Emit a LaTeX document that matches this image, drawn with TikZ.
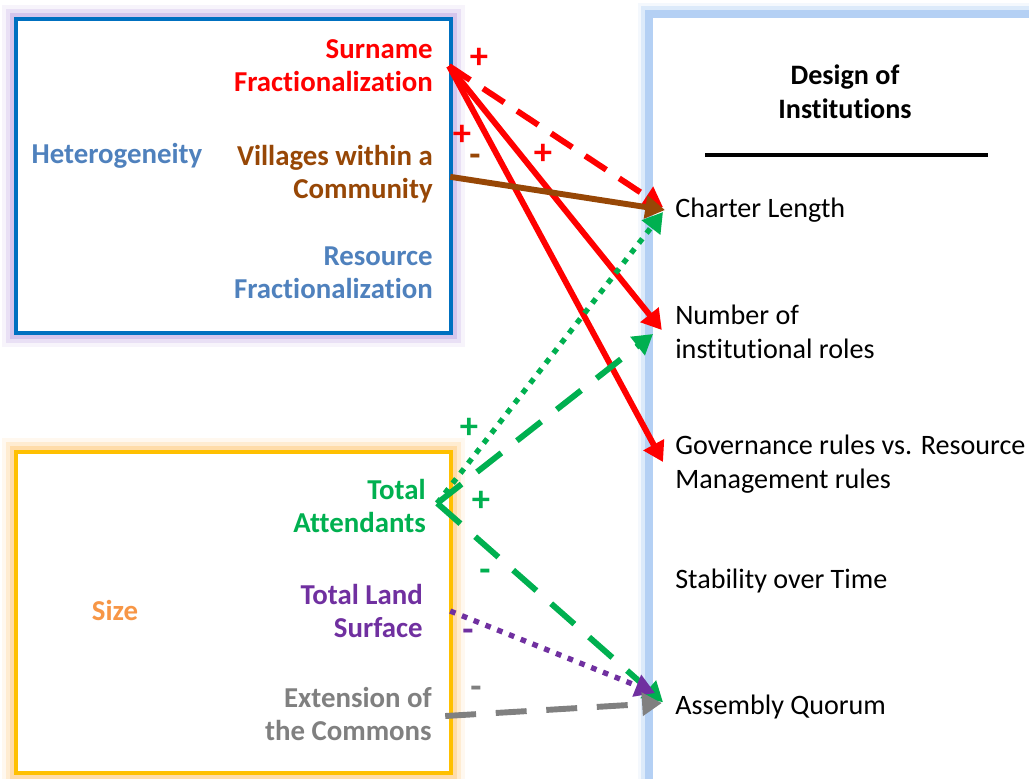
\documentclass[tikz,border=0pt]{standalone}
\usepackage{fontspec}
\setmainfont[Ligatures={NoCommon}]{Carlito}
\usetikzlibrary{arrows.meta}

\definecolor{hetblue}{RGB}{79,129,189}
\definecolor{sizeorange}{RGB}{247,150,70}
\definecolor{boxblue}{RGB}{0,112,192}
\definecolor{boxgold}{RGB}{255,192,0}
\definecolor{glowlilac}{RGB}{190,165,225}
\definecolor{glowgold}{RGB}{255,200,120}
\definecolor{panelblue}{RGB}{166,200,242}
\definecolor{surred}{RGB}{255,0,0}
\definecolor{vilbrown}{RGB}{151,71,6}
\definecolor{attgreen}{RGB}{0,176,80}
\definecolor{landpurple}{RGB}{112,48,160}
\definecolor{extgray}{RGB}{128,128,128}

\tikzset{
  factor/.style={anchor=east, align=right, inner sep=0pt,
    font=\bfseries\fontsize{20.5}{23.5}\selectfont},
  group/.style={inner sep=0pt, font=\bfseries\fontsize{20.5}{23.5}\selectfont},
  outcome/.style={anchor=west, align=left, inner sep=0pt,
    font=\fontsize{20}{24}\selectfont},
  sign/.style={inner sep=0pt, font=\bfseries\fontsize{26}{26}\selectfont},
  link/.style={line width=4.2pt, -{Triangle[length=14pt,width=16pt]}},
  dashlink/.style={link, dash pattern=on 18pt off 11pt},
  longdash/.style={link, dash pattern=on 22pt off 14pt},
  dotlink/.style={link, line width=3.8pt, dash pattern=on 4pt off 5pt},
}

\begin{document}
\begin{tikzpicture}[x=0.025cm,y=-0.025cm]
        \useasboundingbox (0,0) rectangle (1029,778);

        % right panel with its soft blue edge
        \foreach \w/\o in {16/0.12,11/0.3,6/0.75}
                \draw[panelblue, opacity=\o, line width=\w pt] (649,14) rectangle (1100,900);
        \fill[white] (653,18) rectangle (1100,900);

        % heterogeneity box
        \foreach \w/\o in {20/0.12,14/0.25,8/0.45}
                \draw[glowlilac, opacity=\o, line width=\w pt] (16,19) rectangle (451,333);
        \fill[white] (16,19) rectangle (451,333);
        \draw[boxblue, line width=2.2pt] (16,19) rectangle (451,333);

        % size box
        \foreach \w/\o in {20/0.12,14/0.25,8/0.45}
                \draw[glowgold, opacity=\o, line width=\w pt] (16,452) rectangle (451,773);
        \fill[white] (16,452) rectangle (451,773);
        \draw[boxgold, line width=2.2pt] (16,452) rectangle (451,773);

        % groups
        \node[group, text=hetblue] (het) at (117,156) {Heterogeneity};
        \node[group, text=sizeorange] (size) at (115,610) {Size};

        % factors
        \node[factor, text=surred] (sur) at (433,66) {Surname\\Fractionalization};
        \node[factor, text=vilbrown] (vil) at (433,174) {Villages within a\\Community};
        \node[factor, text=hetblue] (res) at (433,273) {Resource\\Fractionalization};
        \node[factor, text=attgreen] (att) at (426,506) {Total\\Attendants};
        \node[factor, text=landpurple] (land) at (423,611) {Total Land\\Surface};
        \node[factor, text=extgray] (ext) at (432,714) {Extension of\\the Commons};

        % design of institutions
        \node[align=center, inner sep=0pt, font=\bfseries\fontsize{20}{24.5}\selectfont]
                (design) at (845,92) {Design of\\Institutions};
        \draw[line width=2.2pt] (705,155) -- (988,155);

        \node[outcome] (charter) at (675,210) {Charter Length};
        \node[outcome] (roles) at (675,332) {Number of\\institutional roles};
        \node[outcome] (gov) at (675,464) {Governance rules vs. Resource\\Management rules};
        \node[outcome] (stab) at (675,581) {Stability over Time};
        \node[outcome] (quorum) at (675,707) {Assembly Quorum};

        % effects of surname fractionalization
        \draw[dashlink, surred] ([xshift=0.4cm]sur.east) -- ([xshift=-0.3cm,yshift=0.07cm]charter.west);
        \draw[link, surred] ([xshift=0.4cm]sur.east) -- ([xshift=-0.33cm,yshift=0.05cm]roles.west);
        \draw[link, surred] ([xshift=0.4cm]sur.east) -- ([xshift=-0.3cm,yshift=0.05cm]gov.west);

        % effect of villages
        \draw[link, vilbrown] ([xshift=0.43cm,yshift=-0.07cm]vil.east) -- ([xshift=-0.25cm]charter.west);

        % effects of attendants
        \draw[dotlink, attgreen] ([xshift=0.28cm,yshift=0.07cm]att.east) -- ([xshift=-0.3cm,yshift=-0.05cm]charter.west);
        \draw[longdash, attgreen] ([xshift=0.28cm,yshift=0.07cm]att.east) -- ([xshift=-0.55cm,yshift=-0.05cm]roles.west);
        \draw[longdash, attgreen] ([xshift=0.28cm,yshift=0.07cm]att.east) -- ([xshift=-0.3cm,yshift=0.12cm]quorum.west);

        % effect of land surface
        \draw[dotlink, landpurple] ([xshift=0.68cm]land.east) -- ([xshift=-0.5cm,yshift=0.35cm]quorum.west);

        % effect of the commons
        \draw[longdash, extgray] ([xshift=0.33cm,yshift=-0.05cm]ext.east) -- ([xshift=-0.33cm,yshift=0.1cm]quorum.west);

        % signs
        \node[sign, text=surred] (s1) at (479,58) {+};
        \node[sign, text=surred] (s2) at (462,135) {+};
        \node[sign, text=surred] (s3) at (543,154) {+};
        \node[sign, text=vilbrown] (s4) at (475,160) {-};
        \node[sign, text=attgreen] (s5) at (469,428) {+};
        \node[sign, text=attgreen] (s6) at (481,501) {+};
        \node[sign, text=attgreen] (s7) at (485,575) {-};
        \node[sign, text=landpurple] (s8) at (468,635) {-};
        \node[sign, text=extgray] (s9) at (476,692) {-};
\end{tikzpicture}
\end{document}
